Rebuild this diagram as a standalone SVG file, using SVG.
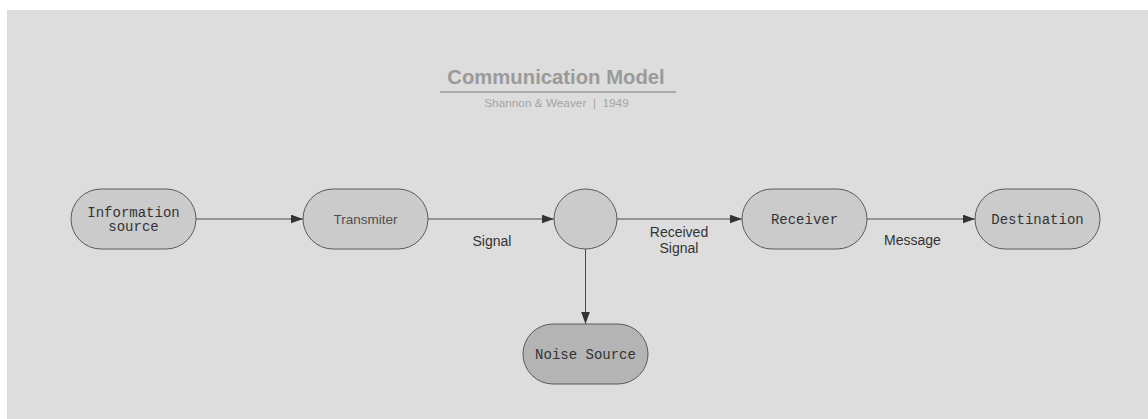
<svg xmlns="http://www.w3.org/2000/svg" width="1148" height="419" viewBox="0 0 1148 419">
  <style>
    .node { fill: #cbcbcb; stroke: #5a5a5a; stroke-width: 1; }
    .noise { fill: #b4b4b4; }
    .mono { font-family: "Liberation Mono", "DejaVu Sans Mono", monospace; font-size: 14px; fill: #333333; text-anchor: middle; }
    .sans { font-family: "Liberation Sans", Arial, sans-serif; fill: #333333; text-anchor: middle; }
    .edge { stroke: #4a4a4a; stroke-width: 1; fill: none; marker-end: url(#arrow); }
    .label { font-size: 14px; }
  </style>
  <defs>
    <marker id="arrow" markerWidth="13" markerHeight="10" refX="12.5" refY="4.5" orient="auto" markerUnits="userSpaceOnUse">
      <path d="M0,0 L12.5,4.5 L0,9 z" fill="#333333"/>
    </marker>
  </defs>

  <!-- canvas -->
  <rect x="0" y="0" width="1148" height="419" fill="#ffffff"/>
  <rect x="7" y="10" width="1141" height="409" fill="#dddddd"/>

  <!-- title block -->
  <g id="title">
    <text x="556" y="84" class="sans" style="font-size:20.3px;font-weight:bold;fill:#9a9a9a">Communication Model</text>
    <line x1="440" y1="92" x2="676" y2="92" stroke="#9a9a9a" stroke-width="1.5"/>
    <text x="556.5" y="107" class="sans" xml:space="preserve" style="font-size:11.8px;fill:#a4a4a4;white-space:pre">Shannon &amp; Weaver  |  1949</text>
  </g>

  <!-- connectors -->
  <g id="connectors">
    <line class="edge" x1="196" y1="219" x2="303" y2="219"/>
    <line class="edge" x1="428" y1="219" x2="554" y2="219"/>
    <line class="edge" x1="617" y1="219" x2="742" y2="219"/>
    <line class="edge" x1="867" y1="219" x2="975" y2="219"/>
    <line class="edge" x1="585.5" y1="249" x2="585.5" y2="324"/>
    <text x="492" y="245.5" class="sans label">Signal</text>
    <text x="679" y="237.3" class="sans label">Received</text>
    <text x="679" y="252.7" class="sans label">Signal</text>
    <text x="912.5" y="245" class="sans label">Message</text>
  </g>

  <!-- nodes -->
  <g id="information-source">
    <rect class="node" x="71" y="189" width="125" height="60" rx="30" ry="30"/>
    <text x="133.5" y="216.5" class="mono">Information</text>
    <text x="133.5" y="230.5" class="mono">source</text>
  </g>
  <g id="transmitter">
    <rect class="node" x="303" y="189" width="125" height="60" rx="30" ry="30"/>
    <text x="365.5" y="224" class="sans" style="font-size:13.5px;fill:#505050">Transmiter</text>
  </g>
  <g id="channel">
    <ellipse class="node" cx="585.5" cy="219" rx="31.5" ry="30"/>
  </g>
  <g id="receiver">
    <rect class="node" x="742" y="189" width="125" height="60" rx="30" ry="30"/>
    <text x="804.5" y="223.5" class="mono">Receiver</text>
  </g>
  <g id="destination">
    <rect class="node" x="975" y="189" width="125" height="60" rx="30" ry="30"/>
    <text x="1037.5" y="223.5" class="mono">Destination</text>
  </g>
  <g id="noise-source">
    <rect class="node noise" x="523" y="324" width="125" height="60" rx="30" ry="30"/>
    <text x="585.5" y="358.5" class="mono">Noise Source</text>
  </g>
</svg>
